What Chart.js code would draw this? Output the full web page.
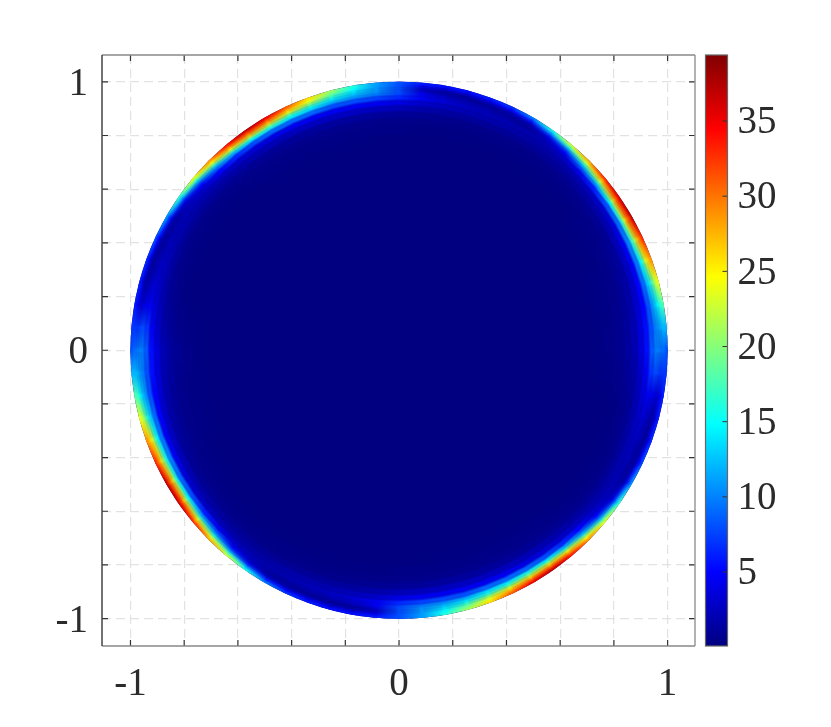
<!DOCTYPE html>
<html>
<head>
<meta charset="utf-8">
<script src="https://cdn.jsdelivr.net/npm/chart.js@4"></script>
<style>
  body { margin: 0; background: #fff; }
  #wrap { position: relative; width: 831px; height: 727px; overflow: hidden; }
  #wrap div { position: absolute; top: 0; height: 727px; }
</style>
</head>
<body>
<div id="wrap">
  <div style="left:0;width:700px"><canvas id="discChart"></canvas></div>
  <div style="left:700px;width:131px"><canvas id="barChart"></canvas></div>
</div>
<script>
// Axis ticks
const gridTicks = [-1, -0.8, -0.6, -0.4, -0.2, 0, 0.2, 0.4, 0.6, 0.8, 1];
const labelledTicks = [-1, 0, 1];
const barTicks = [5, 10, 15, 20, 25, 30, 35];
const barRange = [0.08, 39.39];

// Ring radii, outermost first, and the angle of each table row in degrees
const ringRadii = [0.995, 0.985, 0.975, 0.965, 0.955, 0.94, 0.92, 0.90, 0.875, 0.85, 0.82, 0.78, 0.74, 0.70];
const angles = [0, 5, 10, 15, 20, 25, 30, 35, 40, 45, 50, 55, 60, 65, 70, 75, 80, 85,
  90, 95, 100, 105, 110, 115, 120, 125, 130, 135, 140, 145, 150, 155, 160, 165, 170, 175,
  180, 185, 190, 195, 200, 205, 210, 215, 220, 225, 230, 235, 240, 245, 250, 255, 260, 265,
  270, 275, 280, 285, 290, 295, 300, 305, 310, 315, 320, 325, 330, 335, 340, 345, 350, 355];
const discValue = 0.08;

// Values: one row per angle, one column per ring
const field = [
  [8, 9, 9.5, 10, 10, 8.5, 5.5, 3.5, 2, 1.2, .7, .4, .2, .1],
  [12, 12, 11.5, 11, 10, 8, 5.5, 3.5, 2, 1.2, .7, .4, .2, .1],
  [18, 16.5, 15, 13, 11, 8, 5, 3.2, 1.8, 1, .6, .3, .2, .1],
  [24, 22, 19, 16, 13, 9, 5, 2.8, 1.5, .9, .5, .3, .2, .1],
  [29, 27, 24, 19, 15, 9.5, 4.5, 2.6, 1.3, .8, .4, .3, .2, .1],
  [33, 30, 27, 22, 17, 10, 4.5, 2.4, 1.1, .7, .4, .2, .1, .1],
  [37, 32, 29, 24, 17, 9, 3.5, 2, .9, .5, .3, .2, .1, .1],
  [36, 32, 28, 22, 15, 8, 3, 1.7, .8, .4, .3, .2, .1, .1],
  [33, 28, 23, 17, 11, 6, 2.5, 1.4, .7, .4, .2, .1, .1, .1],
  [28, 23, 17, 12, 8, 4, 2, 1.1, .6, .3, .2, .1, .1, .1],
  [23, 17, 11, 7, 4.5, 2.6, 1.6, 1, .5, .3, .2, .1, .1, .1],
  [16, 11, 7, 4, 2.5, 2, 1.5, .9, .4, .3, .2, .1, .1, .1],
  [10, 6, 3, 1.5, 1.2, 1.8, 1.6, .9, .4, .3, .2, .1, .1, .1],
  [7, 4.5, 2.2, 1.2, 1.4, 2, 1.8, 1, .5, .3, .2, .1, .1, .1],
  [6, 4, 1.8, 1, 1.7, 2.3, 1.9, 1.1, .5, .3, .2, .1, .1, .1],
  [5.5, 3, 1.2, 1.2, 2.1, 2.6, 2.1, 1.2, .6, .3, .2, .1, .1, .1],
  [5.5, 3, 1.2, 1.6, 2.8, 3.3, 2.4, 1.4, .7, .4, .2, .1, .1, .1],
  [6, 4, 2.5, 3, 4.5, 4.5, 3, 1.7, .8, .4, .2, .1, .1, .1],
  [8, 8, 8, 8, 8, 6.5, 4, 2.2, 1, .5, .3, .1, .1, .1],
  [11, 11, 11, 11, 10, 7.5, 4.5, 2.4, 1.1, .5, .3, .1, .1, .1],
  [16, 15, 14, 13, 11, 8, 4.5, 2.5, 1.2, .6, .3, .2, .1, .1],
  [21, 19, 17, 15, 12, 8, 4.5, 2.5, 1.2, .6, .3, .2, .1, .1],
  [26, 24, 21, 17, 14, 9, 4.5, 2.5, 1.2, .6, .3, .2, .1, .1],
  [31, 28, 24, 19, 15, 9, 4.5, 2.4, 1.1, .6, .3, .2, .1, .1],
  [35, 31, 27, 22, 16, 9, 4, 2.2, 1, .5, .3, .2, .1, .1],
  [37, 32, 28, 22, 15, 8, 3.5, 2, .9, .5, .3, .2, .1, .1],
  [34, 30, 25, 19, 12, 6.5, 3, 1.7, .8, .4, .3, .1, .1, .1],
  [29, 25, 19, 13, 9, 5, 2.5, 1.4, .7, .4, .2, .1, .1, .1],
  [24, 18, 12, 8, 5, 3, 2, 1.2, .6, .3, .2, .1, .1, .1],
  [17, 12, 7, 4, 2.6, 2.3, 1.8, 1.1, .5, .3, .2, .1, .1, .1],
  [11, 7, 3.5, 1.7, 1.4, 2, 1.9, 1.1, .5, .3, .2, .1, .1, .1],
  [8, 5, 2.2, 1.2, 1.6, 2.2, 2, 1.2, .6, .3, .2, .1, .1, .1],
  [6.5, 4, 1.5, 1.2, 2, 2.6, 2.4, 1.4, .7, .4, .2, .1, .1, .1],
  [6, 3.5, 1.5, 1.7, 2.6, 3.2, 2.8, 1.7, .9, .5, .2, .1, .1, .1],
  [6, 4, 3.2, 3.5, 4.2, 4.5, 3.5, 2.2, 1.2, .7, .4, .2, .1, .1],
  [7, 7, 7, 7.5, 8, 7, 4.5, 2.8, 1.6, 1, .5, .3, .2, .1],
  [8, 9, 9.5, 10, 10, 8.5, 5.5, 3.6, 2.2, 1.3, .8, .4, .2, .1],
  [12, 12, 12, 11, 10, 8, 5.5, 3.5, 2, 1.2, .7, .4, .2, .1],
  [18, 17, 15, 13, 11, 8, 5, 3.2, 1.8, 1, .6, .3, .2, .1],
  [24, 22, 19, 16, 13, 9, 5, 2.8, 1.5, .9, .5, .3, .2, .1],
  [29, 27, 24, 19, 15, 9.5, 4.5, 2.6, 1.3, .8, .4, .3, .2, .1],
  [33, 30, 26, 21, 16, 10, 4.5, 2.4, 1.1, .7, .4, .2, .1, .1],
  [37, 32, 28, 23, 16, 9, 3.5, 2, .9, .5, .3, .2, .1, .1],
  [36, 32, 27, 21, 15, 8, 3, 1.7, .8, .4, .3, .2, .1, .1],
  [33, 28, 23, 17, 11, 6, 2.5, 1.4, .7, .4, .2, .1, .1, .1],
  [28, 23, 17, 12, 8, 4, 2, 1.1, .6, .3, .2, .1, .1, .1],
  [23, 17, 11, 7, 4.5, 2.6, 1.6, 1, .5, .3, .2, .1, .1, .1],
  [16, 11, 6.5, 3.5, 2.5, 2, 1.5, .9, .4, .3, .2, .1, .1, .1],
  [10, 6, 3, 1.5, 1.2, 1.8, 1.6, .9, .4, .3, .2, .1, .1, .1],
  [7, 4.5, 2, 1.1, 1.4, 2, 1.8, 1, .5, .3, .2, .1, .1, .1],
  [6, 4, 1.6, 1, 1.7, 2.3, 1.9, 1.1, .5, .3, .2, .1, .1, .1],
  [5.5, 3, 1.2, 1.2, 2.1, 2.6, 2.1, 1.2, .6, .3, .2, .1, .1, .1],
  [5.5, 3, 1.2, 1.6, 2.8, 3.3, 2.4, 1.4, .7, .4, .2, .1, .1, .1],
  [6, 4, 2.5, 3, 4.5, 4.5, 3, 1.7, .8, .4, .2, .1, .1, .1],
  [8, 8, 8, 8, 8, 6.5, 4, 2.2, 1, .5, .3, .1, .1, .1],
  [11, 11, 11, 11, 10, 7.5, 4.5, 2.4, 1.1, .5, .3, .1, .1, .1],
  [16, 15, 14, 13, 11, 8, 4.5, 2.5, 1.2, .6, .3, .2, .1, .1],
  [21, 19, 17, 15, 12, 8, 4.5, 2.5, 1.2, .6, .3, .2, .1, .1],
  [26, 24, 21, 17, 14, 9, 4.5, 2.5, 1.2, .6, .3, .2, .1, .1],
  [31, 28, 24, 19, 15, 9, 4.5, 2.4, 1.1, .6, .3, .2, .1, .1],
  [35, 31, 26, 21, 16, 9, 4, 2.2, 1, .5, .3, .2, .1, .1],
  [37, 32, 27, 22, 15, 8, 3.5, 2, .9, .5, .3, .2, .1, .1],
  [34, 30, 25, 19, 12, 6.5, 3, 1.7, .8, .4, .3, .1, .1, .1],
  [29, 25, 19, 13, 9, 5, 2.5, 1.4, .7, .4, .2, .1, .1, .1],
  [24, 18, 12, 8, 5, 3, 2, 1.2, .6, .3, .2, .1, .1, .1],
  [17, 12, 7, 4, 2.6, 2.3, 1.8, 1.1, .5, .3, .2, .1, .1, .1],
  [11, 7, 3.5, 1.7, 1.4, 2, 1.9, 1.1, .5, .3, .2, .1, .1, .1],
  [8, 5, 2.2, 1.2, 1.6, 2.2, 2, 1.2, .6, .3, .2, .1, .1, .1],
  [6.5, 4, 1.5, 1.2, 2, 2.6, 2.4, 1.4, .7, .4, .2, .1, .1, .1],
  [6, 3.5, 1.5, 1.7, 2.6, 3.2, 2.8, 1.7, .9, .5, .2, .1, .1, .1],
  [6, 4, 3.2, 3.5, 4.2, 4.5, 3.5, 2.2, 1.2, .7, .4, .2, .1, .1],
  [7, 7, 7, 7.5, 8, 7, 4.5, 2.8, 1.6, 1, .5, .3, .2, .1]
];

// MATLAB jet colormap
const jetStops = [
  [0, [0, 0, 128]], [0.125, [0, 0, 255]], [0.375, [0, 255, 255]],
  [0.625, [255, 255, 0]], [0.875, [255, 0, 0]], [1, [128, 0, 0]]
];

function jet(v) {
  const t = Math.min(1, Math.max(0, (v - barRange[0]) / (barRange[1] - barRange[0])));
  for (let i = 1; i < jetStops.length; i++) {
    const [t0, c0] = jetStops[i - 1];
    const [t1, c1] = jetStops[i];
    if (t <= t1) {
      const f = (t - t0) / (t1 - t0);
      return `rgb(${c0.map((c, k) => Math.round(c + (c1[k] - c) * f)).join(',')})`;
    }
  }
  return 'rgb(128,0,0)';
}

const onCircle = (r, deg) => ({ x: r * Math.cos(deg * Math.PI / 180), y: r * Math.sin(deg * Math.PI / 180) });
const closedAngles = [...angles, 360];

// Width of a ring in axis units, from the neighbouring radii.
// The outer ring runs past the edge so the blur below does not show the disc there
function ringWidth(i) {
  const outer = i === 0 ? 1.015 : (ringRadii[i - 1] + ringRadii[i]) / 2;
  const inner = i === ringRadii.length - 1 ? ringRadii[i] - 0.02 : (ringRadii[i] + ringRadii[i + 1]) / 2;
  return outer - inner;
}

const ringDatasets = ringRadii.map((r, i) => ({
  data: closedAngles.map(a => onCircle(r, a)),
  showLine: true,
  pointRadius: 0,
  tension: 0,
  order: 50 - i,
  borderCapStyle: 'round',
  borderColor: jet(field[0][i]),
  borderWidth: ctx => {
    const x = ctx.chart.scales.x;
    return Math.abs(x.getPixelForValue(ringWidth(i)) - x.getPixelForValue(0)) + 0.6;
  },
  segment: {
    borderColor: ctx => {
      const g = ctx.chart.ctx.createLinearGradient(ctx.p0.x, ctx.p0.y, ctx.p1.x, ctx.p1.y);
      g.addColorStop(0, jet(field[ctx.p0DataIndex % angles.length][i]));
      g.addColorStop(1, jet(field[ctx.p1DataIndex % angles.length][i]));
      return g;
    }
  }
}));

const discDataset = {
  data: closedAngles.map(a => onCircle(1.01, a)),
  showLine: true,
  pointRadius: 0,
  tension: 0,
  order: 100,
  borderWidth: 0,
  borderColor: jet(discValue),
  backgroundColor: jet(discValue),
  fill: 'shape'
};

const labelFont = { family: '"Liberation Serif", serif', size: 39 };
const labelColor = '#2b2b2b';

// Soften the ring steps and cut everything at the unit circle
const discClip = {
  id: 'discClip',
  beforeDatasetsDraw(chart) {
    const { ctx, scales } = chart;
    const cx = scales.x.getPixelForValue(0);
    const cy = scales.y.getPixelForValue(0);
    const rad = scales.x.getPixelForValue(1) - cx;
    ctx.save();
    ctx.beginPath();
    ctx.arc(cx, cy, rad, 0, Math.PI * 2);
    ctx.clip();
    ctx.filter = 'blur(1.2px)';
  },
  afterDatasetsDraw(chart) {
    chart.ctx.restore();
  }
};

// Inward tick marks and the box around the axes
const axesBox = {
  id: 'axesBox',
  afterDraw(chart) {
    const { ctx, chartArea: a, scales } = chart;
    ctx.save();
    ctx.lineWidth = 1.2;
    ctx.strokeStyle = '#333';
    ctx.beginPath();
    gridTicks.forEach(v => {
      const px = scales.x.getPixelForValue(v);
      const py = scales.y.getPixelForValue(v);
      ctx.moveTo(px, a.top); ctx.lineTo(px, a.top + 6);
      ctx.moveTo(px, a.bottom); ctx.lineTo(px, a.bottom - 6);
      ctx.moveTo(a.left, py); ctx.lineTo(a.left + 6, py);
      ctx.moveTo(a.right, py); ctx.lineTo(a.right - 6, py);
    });
    ctx.stroke();
    const side = (color, w, x0, y0, x1, y1) => {
      ctx.strokeStyle = color;
      ctx.lineWidth = w;
      ctx.beginPath(); ctx.moveTo(x0, y0); ctx.lineTo(x1, y1); ctx.stroke();
    };
    side('#999', 1.5, a.right, a.top, a.right, a.bottom);
    side('#888', 1.5, a.left, a.bottom, a.right, a.bottom);
    side('#888', 1.5, a.left, a.top, a.right, a.top);
    side('#444', 1.5, a.left, a.top, a.left, a.bottom);
    ctx.restore();
  }
};

const gridOptions = { color: '#e2e2e2', lineWidth: 1.2, drawTicks: false };

new Chart(document.getElementById('discChart').getContext('2d'), {
  type: 'scatter',
  data: { datasets: [...ringDatasets, discDataset] },
  plugins: [discClip, axesBox],
  options: {
    responsive: true,
    maintainAspectRatio: false,
    animation: false,
    layout: { padding: { top: 55, right: 5, bottom: 0, left: 0 } },
    plugins: { legend: { display: false }, tooltip: { enabled: false } },
    scales: {
      x: {
        type: 'linear', min: -1.106, max: 1.102,
        grid: gridOptions,
        border: { display: false, dash: [9, 5] },
        afterBuildTicks: s => { s.ticks = gridTicks.map(value => ({ value })); },
        afterFit: s => { s.height = 81; },
        ticks: {
          autoSkip: false, maxRotation: 0, padding: 15,
          font: labelFont, color: labelColor,
          callback: v => labelledTicks.includes(v) ? String(v) : ''
        }
      },
      y: {
        type: 'linear', min: -1.102, max: 1.1,
        grid: gridOptions,
        border: { display: false, dash: [9, 5] },
        afterBuildTicks: s => { s.ticks = gridTicks.map(value => ({ value })); },
        afterFit: s => { s.width = 102; },
        ticks: {
          autoSkip: false, padding: 14, labelOffset: 3,
          font: labelFont, color: labelColor,
          callback: v => labelledTicks.includes(v) ? String(v) : ''
        }
      }
    }
  }
});

// Colorbar
const barBox = {
  id: 'barBox',
  afterDatasetsDraw(chart) {
    const { ctx, chartArea: a, scales } = chart;
    ctx.save();
    ctx.strokeStyle = '#333';
    ctx.lineWidth = 1;
    ctx.beginPath();
    barTicks.forEach(v => {
      const py = scales.y.getPixelForValue(v);
      ctx.moveTo(a.right, py); ctx.lineTo(a.right - 5, py);
    });
    ctx.stroke();
    ctx.lineWidth = 1.2;
    ctx.strokeStyle = '#666';
    ctx.strokeRect(a.left, a.top, a.right - a.left, a.bottom - a.top);
    ctx.restore();
  }
};

new Chart(document.getElementById('barChart').getContext('2d'), {
  type: 'bar',
  data: {
    labels: [''],
    datasets: [{
      data: [barRange],
      barPercentage: 1,
      categoryPercentage: 1,
      backgroundColor: ctx => {
        const { chart } = ctx;
        if (!chart.chartArea) return '#000';
        const g = chart.ctx.createLinearGradient(0, chart.chartArea.bottom, 0, chart.chartArea.top);
        jetStops.forEach(([t, c]) => g.addColorStop(t, `rgb(${c.join(',')})`));
        return g;
      }
    }]
  },
  plugins: [barBox],
  options: {
    responsive: true,
    maintainAspectRatio: false,
    animation: false,
    layout: { padding: { top: 55, right: 0, bottom: 81, left: 5.5 } },
    plugins: { legend: { display: false }, tooltip: { enabled: false } },
    scales: {
      x: { display: false },
      y: {
        position: 'right',
        min: barRange[0], max: barRange[1],
        grid: { display: false, drawTicks: false },
        border: { display: false },
        afterBuildTicks: s => { s.ticks = barTicks.map(value => ({ value })); },
        afterFit: s => { s.width = 103.5; },
        ticks: { padding: 10, labelOffset: 2, font: labelFont, color: labelColor }
      }
    }
  }
});
</script>
</body>
</html>
